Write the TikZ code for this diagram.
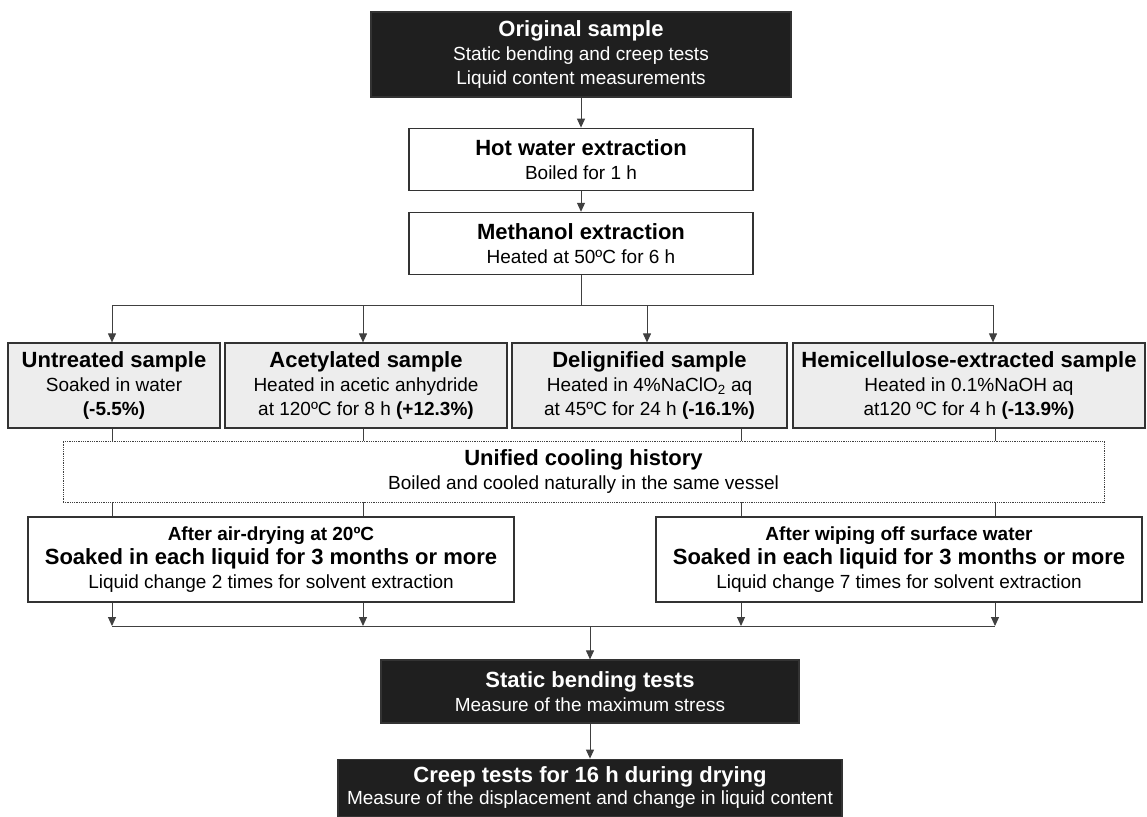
\documentclass[tikz,border=0pt]{standalone}
\usepackage{fontspec}
\setmainfont{Liberation Sans}
\usepackage{tikz}
\usetikzlibrary{arrows.meta, positioning}
\definecolor{darkFill}{gray}{0.12}
\definecolor{lightGray}{gray}{0.93}
\definecolor{lineGray}{gray}{0.2}
\definecolor{subGray}{gray}{0.25}
\newcommand{\headFont}{\bfseries\fontsize{22}{24}\selectfont}
\newcommand{\smallHead}{\bfseries\fontsize{19}{24}\selectfont}

\begin{document}
\begin{tikzpicture}[x=1pt, y=-1pt,
        box/.style={draw=lineGray, line width=1.2pt, align=center, inner sep=0pt, font=\fontsize{19}{24}\selectfont},
        darkBox/.style={box, fill=darkFill, text=white},
        whiteBox/.style={box, fill=white, minimum width=344pt, minimum height=62pt},
        sampleBox/.style={box, fill=lightGray, minimum height=85pt},
        soakBox/.style={box, fill=white, minimum width=486pt, minimum height=85pt},
        coolBox/.style={box, draw=subGray, line width=0.8pt, densely dotted, minimum width=1041pt, minimum height=61pt},
        link/.style={draw=subGray, line width=1pt},
        arrow/.style={link, -{Triangle[length=9pt, width=8pt]}}]
            \useasboundingbox (0,0) rectangle (1147,816);
            \node[darkBox, minimum width=420pt, minimum height=85pt] (orig) at (581,54.5)
                {{\headFont Original sample}\\Static bending and creep tests\\Liquid content measurements};
            \node[whiteBox, below=30pt of orig] (hot) {{\headFont Hot water extraction}\\Boiled for 1 h};
            \node[whiteBox, below=21pt of hot] (meth) {{\headFont Methanol extraction}\\Heated at 50ºC for 6 h};
            \node[sampleBox, minimum width=212pt] (untr) at (114,385.5)
                {{\headFont Untreated sample}\\Soaked in water\\\textbf{(-5.5\%)}};
            \node[sampleBox, minimum width=282pt] (acet) at (366,385.5)
                {{\headFont Acetylated sample}\\Heated in acetic anhydride\\at 120ºC for 8 h \textbf{(+12.3\%)}};
            \node[sampleBox, minimum width=275pt] (delig) at (649.5,385.5)
                {{\headFont Delignified sample}\\Heated in 4\%NaClO\textsubscript{2} aq\\at 45ºC for 24 h \textbf{(-16.1\%)}};
            \node[sampleBox, minimum width=352pt] (hemi) at (969,385.5)
                {{\headFont Hemicellulose-extracted sample}\\Heated in 0.1\%NaOH aq\\at120 ºC for 4 h \textbf{(-13.9\%)}};
            \node[coolBox] (cool) at (583.5,471.5)
                {{\headFont Unified cooling history}\\Boiled and cooled naturally in the same vessel};
            \node[soakBox] (soakA) at (271,559.5)
                {{\smallHead After air-drying at 20ºC}\\{\headFont Soaked in each liquid for 3 months or more}\\Liquid change 2 times for solvent extraction};
            \node[soakBox] (soakB) at (899,559.5)
                {{\smallHead After wiping off surface water}\\{\headFont Soaked in each liquid for 3 months or more}\\Liquid change 7 times for solvent extraction};
            \node[darkBox, minimum width=418pt, minimum height=63pt] (static) at (590,691.5)
                {{\headFont Static bending tests}\\Measure of the maximum stress};
            \node[darkBox, minimum width=504pt, minimum height=57pt, below=35pt of static] (creep)
                {{\headFont Creep tests for 16 h during drying}\\[-2pt]Measure of the displacement and change in liquid content};

            \foreach \k/\xx in {1/112, 2/363, 3/647, 4/993}
                \coordinate (top\k) at (\xx,305);
            \foreach \k/\xx in {1/112, 2/363, 3/741, 4/995}
                \coordinate (col\k) at (\xx,626);

            \draw[arrow] (orig) -- (hot);
            \draw[arrow] (hot) -- (meth);
            \draw[link] (meth.south) -- (meth.south |- top1);
            \draw[link] (top1) -- (top4);
            \foreach \k/\nm in {1/untr, 2/acet, 3/delig, 4/hemi} {
                \draw[arrow] (top\k) -- (top\k |- \nm.north);
                \draw[link] (col\k |- \nm.south) -- (col\k |- cool.north);
            }
            \foreach \k/\nm in {1/soakA, 2/soakA, 3/soakB, 4/soakB} {
                \draw[link] (col\k |- cool.south) -- (col\k |- \nm.north);
                \draw[arrow] (col\k |- \nm.south) -- (col\k);
            }
            \draw[link] (col1) -- (col4);
            \draw[arrow] (col1 -| static.north) -- (static.north);
            \draw[arrow] (static) -- (creep);
        \end{tikzpicture}
\end{document}
